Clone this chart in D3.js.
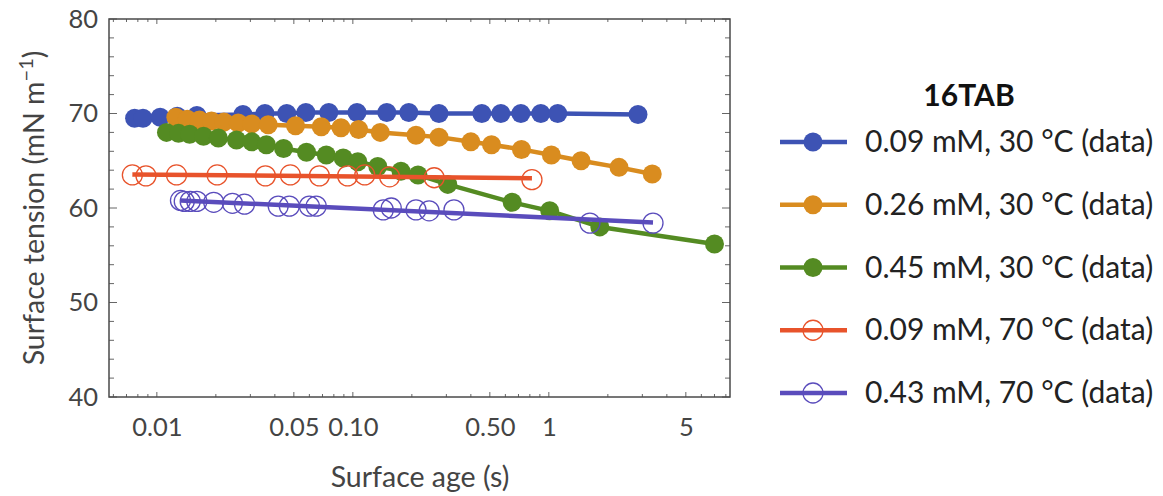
<!DOCTYPE html>
<html>
<head>
<meta charset="utf-8">
<script src="https://cdn.jsdelivr.net/npm/d3@7"></script>
<style>
  body { margin: 0; background: #fff; }
  text { font-family: Lato, "Open Sans", sans-serif; }
</style>
</head>
<body>
<div id="chart"></div>
<script>
// data: surface age (s) and surface tension (mN/m)
const age_009_30 = [0.0077, 0.0085, 0.0104, 0.0127, 0.016, 0.0275, 0.0356, 0.046, 0.0576, 0.0754, 0.105, 0.149, 0.193, 0.275, 0.455, 0.569, 0.72, 0.91, 1.11, 2.85];
const st_009_30  = [69.5, 69.5, 69.6, 69.7, 69.8, 69.9, 70.0, 70.0, 70.1, 70.1, 70.1, 70.1, 70.1, 70.0, 70.0, 70.0, 70.0, 70.0, 70.0, 69.9];

const age_026_30 = [0.0125, 0.0143, 0.0165, 0.019, 0.022, 0.026, 0.0305, 0.037, 0.051, 0.069, 0.087, 0.107, 0.138, 0.21, 0.275, 0.40, 0.51, 0.725, 1.03, 1.46, 2.28, 3.37];
const st_026_30  = [69.6, 69.4, 69.3, 69.2, 69.1, 69.0, 68.9, 68.8, 68.7, 68.6, 68.5, 68.3, 68.0, 67.7, 67.5, 67.0, 66.7, 66.2, 65.6, 65.0, 64.3, 63.6];

const age_045_30 = [0.0112, 0.0129, 0.0147, 0.0173, 0.0206, 0.0255, 0.0305, 0.0362, 0.0443, 0.058, 0.0732, 0.0893, 0.106, 0.134, 0.176, 0.215, 0.305, 0.65, 1.01, 1.82, 7.0];
const st_045_30  = [68.0, 67.9, 67.8, 67.6, 67.4, 67.2, 67.0, 66.7, 66.3, 65.9, 65.6, 65.3, 64.9, 64.4, 63.9, 63.5, 62.5, 60.6, 59.7, 58.0, 56.2];

const age_009_70 = [0.0075, 0.0088, 0.0126, 0.0203, 0.0358, 0.048, 0.0675, 0.094, 0.115, 0.154, 0.26, 0.82];
const st_009_70  = [63.5, 63.4, 63.5, 63.5, 63.4, 63.5, 63.4, 63.4, 63.5, 63.3, 63.2, 63.0];

const age_043_70 = [0.0132, 0.0138, 0.0148, 0.016, 0.0195, 0.0243, 0.028, 0.0416, 0.0474, 0.06, 0.065, 0.143, 0.157, 0.21, 0.245, 0.328, 1.62, 3.4];
const st_043_70  = [60.8, 60.7, 60.7, 60.7, 60.6, 60.5, 60.4, 60.2, 60.2, 60.2, 60.2, 59.8, 60.0, 59.8, 59.7, 59.8, 58.4, 58.4];

const seriesNames = ["0.09 mM, 30 °C (data)", "0.26 mM, 30 °C (data)", "0.45 mM, 30 °C (data)", "0.09 mM, 70 °C (data)", "0.43 mM, 70 °C (data)"];
const xTicks = [0.01, 0.05, 0.1, 0.5, 1, 5];
const xTickLabels = ["0.01", "0.05", "0.10", "0.50", "1", "5"];
const yTicks = [40, 50, 60, 70, 80];

// series table for drawing
var series = [
  {name: seriesNames[0], x: age_009_30, y: st_009_30, color: "#3d53b4", open: false, fit: false},
  {name: seriesNames[1], x: age_026_30, y: st_026_30, color: "#d98c1f", open: false, fit: false},
  {name: seriesNames[2], x: age_045_30, y: st_045_30, color: "#548b22", open: false, fit: false},
  {name: seriesNames[3], x: age_009_70, y: st_009_70, color: "#e8532b", open: true, fit: true},
  {name: seriesNames[4], x: age_043_70, y: st_043_70, color: "#5a4cbc", open: true, fit: true}
];

var margin = {top: 19, left: 109};
var width = 621, height = 378;

var svg = d3.select("#chart").append("svg")
  .attr("width", 1163).attr("height", 496);

var g = svg.append("g")
  .attr("transform", "translate(" + margin.left + "," + margin.top + ")");

var xScale = d3.scaleLog().domain([0.0057, 8.4]).range([0, width]);
var yScale = d3.scaleLinear().domain([40, 80]).range([height, 0]);

// minor ticks
var minorX = [];
[0.001, 0.01, 0.1, 1].forEach(function(dec) {
  for (var k = 1; k < 10; k++) {
    var v = dec * k;
    if (v >= 0.0057 && v <= 8.4) minorX.push(v);
  }
});
var minorY = d3.range(40, 81, 2);

var tickColor = "#666";
g.selectAll(".mxb").data(minorX).enter().append("line")
  .attr("x1", d => xScale(d)).attr("x2", d => xScale(d))
  .attr("y1", height).attr("y2", d => height - (xTicks.indexOf(d) >= 0 ? 5 : 3))
  .attr("stroke", tickColor).attr("stroke-width", 1);
g.selectAll(".mxt").data(minorX).enter().append("line")
  .attr("x1", d => xScale(d)).attr("x2", d => xScale(d))
  .attr("y1", 0).attr("y2", d => (xTicks.indexOf(d) >= 0 ? 5 : 3))
  .attr("stroke", tickColor).attr("stroke-width", 1);
g.selectAll(".myl").data(minorY).enter().append("line")
  .attr("x1", 0).attr("x2", d => (d % 10 === 0 ? 8 : 5))
  .attr("y1", d => yScale(d)).attr("y2", d => yScale(d))
  .attr("stroke", tickColor).attr("stroke-width", 1);
g.selectAll(".myr").data(minorY).enter().append("line")
  .attr("x1", width).attr("x2", d => width - (d % 10 === 0 ? 8 : 5))
  .attr("y1", d => yScale(d)).attr("y2", d => yScale(d))
  .attr("stroke", tickColor).attr("stroke-width", 1);

// frame
g.append("rect")
  .attr("width", width).attr("height", height)
  .attr("fill", "none").attr("stroke", "#4a4a4a").attr("stroke-width", 1.5);

// tick labels via axes
var xAxis = g.append("g")
  .attr("transform", "translate(0," + height + ")")
  .call(d3.axisBottom(xScale).tickValues(xTicks)
        .tickFormat((d, i) => xTickLabels[i]).tickSize(0).tickPadding(21));
var yAxis = g.append("g")
  .call(d3.axisLeft(yScale).tickValues(yTicks).tickSize(0).tickPadding(11));
[xAxis, yAxis].forEach(function(a) {
  a.select(".domain").remove();
  a.selectAll("text").attr("font-size", 25.5).attr("fill", "#444")
    .attr("font-family", "Lato, sans-serif");
});

// lines and points
var line = d3.line()
  .x(d => xScale(d[0]))
  .y(d => yScale(d[1]));

series.forEach(function(s) {
  var pts = s.x.map((v, i) => [v, s.y[i]]);
  var path;
  if (s.fit) {
    // least squares fit in log(age)
    var lx = s.x.map(v => Math.log10(v));
    var mx = d3.mean(lx), my = d3.mean(s.y);
    var b = d3.sum(lx, (v, i) => (v - mx) * (s.y[i] - my)) / d3.sum(lx, v => (v - mx) * (v - mx));
    var a0 = my - b * mx;
    var x0 = d3.min(s.x), x1 = d3.max(s.x);
    path = [[x0, a0 + b * Math.log10(x0)], [x1, a0 + b * Math.log10(x1)]];
  } else {
    path = pts;
  }
  g.append("path").datum(path)
    .attr("d", line)
    .attr("fill", "none")
    .attr("stroke", s.color)
    .attr("stroke-width", 4.5)
    .attr("stroke-linejoin", "round");
  g.selectAll(null).data(pts).enter().append("circle")
    .attr("cx", d => xScale(d[0]))
    .attr("cy", d => yScale(d[1]))
    .attr("r", s.open ? 10 : 9.5)
    .attr("fill", s.open ? "none" : s.color)
    .attr("stroke", s.color)
    .attr("stroke-width", s.open ? 1.3 : 0);
});

// axis titles
svg.append("text")
  .attr("x", 420).attr("y", 487)
  .attr("text-anchor", "middle")
  .attr("font-size", 28.5).attr("fill", "#444")
  .text("Surface age (s)");

var yt = svg.append("text")
  .attr("transform", "translate(44,208) rotate(-90)")
  .attr("text-anchor", "middle")
  .attr("font-size", 28.5).attr("fill", "#444");
yt.append("tspan").text("Surface tension (mN m");
yt.append("tspan").attr("dy", -11).attr("font-size", 20).text("−1");
yt.append("tspan").attr("dy", 11).text(")");

// legend
var legend = svg.append("g");
legend.append("text")
  .attr("x", 969).attr("y", 106)
  .attr("text-anchor", "middle")
  .attr("font-size", 30).attr("font-weight", "bold").attr("fill", "#111")
  .text("16TAB");

var legY = d3.scalePoint().domain(seriesNames).range([142, 393]);
series.forEach(function(s) {
  var y = legY(s.name);
  legend.append("line")
    .attr("x1", 780).attr("x2", 847).attr("y1", y).attr("y2", y)
    .attr("stroke", s.color).attr("stroke-width", 4.5);
  legend.append("circle")
    .attr("cx", 813).attr("cy", y).attr("r", s.open ? 10 : 9.5)
    .attr("fill", s.open ? "#fff" : s.color)
    .attr("fill-opacity", s.open ? 0 : 1)
    .attr("stroke", s.color).attr("stroke-width", s.open ? 1.3 : 0);
  legend.append("text")
    .attr("x", 865).attr("y", y + 10)
    .attr("font-size", 30).attr("fill", "#222")
    .text(s.name);
});
</script>
</body>
</html>
